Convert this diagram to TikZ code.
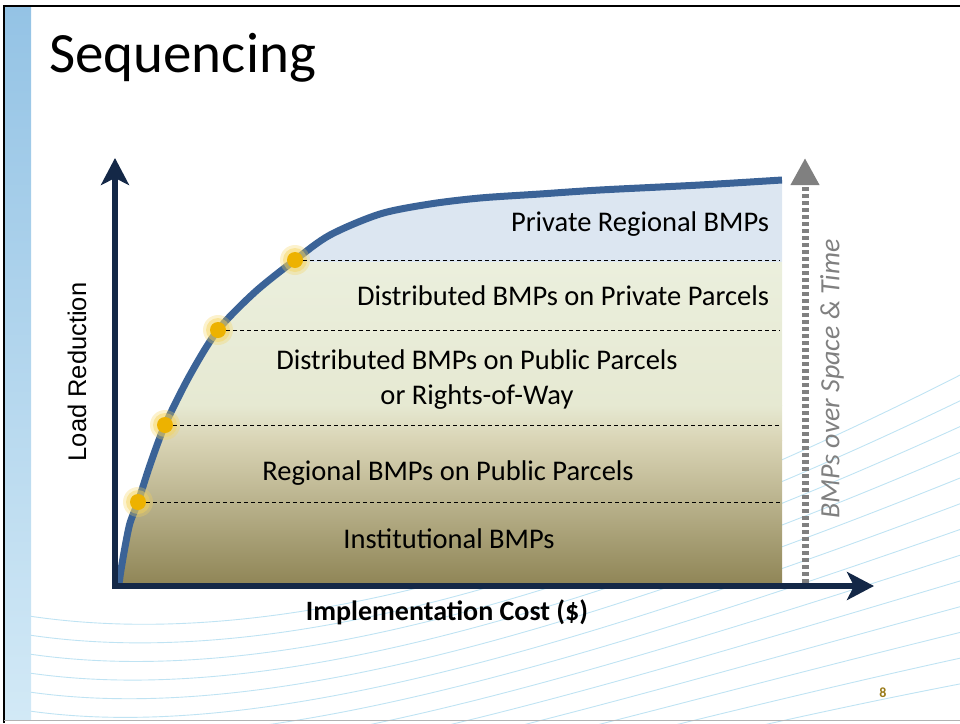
\documentclass[tikz,border=0pt]{standalone}
\usepackage{fontspec}
\setmainfont{Carlito}
\newfontfamily\arialf{Liberation Sans}
\usetikzlibrary{arrows.meta}
\definecolor{navy}{HTML}{142847}
\definecolor{curveblue}{HTML}{3B6397}
\definecolor{bandblue}{HTML}{DCE6F1}
\definecolor{bandgreenA}{HTML}{EBEFDD}
\definecolor{bandgreenB}{HTML}{E6E9D2}
\definecolor{tanA}{HTML}{D9D4B5}
\definecolor{tanB}{HTML}{8F8556}
\definecolor{dotcore}{HTML}{EDB200}
\definecolor{dotglow}{HTML}{F6D35A}
\definecolor{arrowgray}{HTML}{808080}
\definecolor{wavec}{HTML}{BFE3F3}
\definecolor{stripeA}{HTML}{94C3E5}
\definecolor{stripeB}{HTML}{D2E9F6}
\definecolor{pagenum}{HTML}{9A7B1A}
\tikzset{
  bandtext/.style={font=\fontsize{28.5}{35}\selectfont, text=black, inner sep=0pt},
  axislabel/.style={font=\fontsize{28}{30}\selectfont\bfseries, text=black, inner sep=0pt},
  axisline/.style={draw=navy, line width=5.5pt, -{Stealth[length=27pt,width=28pt,inset=7pt]}},
  sepline/.style={draw=black, line width=0.9pt, dash pattern=on 4pt off 3pt},
  dotnode/.style={circle, fill=dotcore, minimum size=16pt, inner sep=0pt},
  wave/.style={draw=wavec, line width=0.9pt},
}
\begin{document}
\begin{tikzpicture}[x=1pt,y=-1pt]
\useasboundingbox (0,0) rectangle (960,723);
\clip (0,0) rectangle (960,723);
% background waves
\foreach \i in {0,...,12} {
  \draw[wave] (5,{612+19*\i}) .. controls (220,{652+19*\i}) and (520,{600+14*\i}) .. (970,{370+26*\i});
}
% left stripe
\shade[top color=stripeA, bottom color=stripeB] (5,6) rectangle (31,720);
% frame
\draw[black, line width=2.5pt] (4,723) -- (4,6) -- (960,6);
\draw[gray!60, line width=1.5pt] (4,720.5) -- (960,720.5);
% title
\node[anchor=base west, inner sep=0pt, font=\fontsize{57}{60}\selectfont] (title) at (49,72) {Sequencing};
% chart fill
\begin{scope}
\clip plot[smooth, tension=0.5] coordinates {(119,584) (121,570) (125,547) (130,523) (138,502) (150,465) (165,425) (190,375) (218,330) (255,292) (295,260) (330,235) (380,214) (430,204) (480,198) (540,194) (600,190) (700,185) (782,180)} -- (782,584) -- cycle;
\fill[bandblue] (110,150) rectangle (785,262);
\shade[top color=bandgreenA, bottom color=bandgreenB] (110,262) rectangle (785,405);
\shade[top color=bandgreenB, bottom color=tanA] (110,405) rectangle (785,440);
\shade[top color=tanA, bottom color=tanB] (110,440) rectangle (785,585);
\end{scope}
% curve
\draw[curveblue, line width=7pt] plot[smooth, tension=0.5] coordinates {(119,584) (121,570) (125,547) (130,523) (138,502) (150,465) (165,425) (190,375) (218,330) (255,292) (295,260) (330,235) (380,214) (430,204) (480,198) (540,194) (600,190) (700,185) (782,180)};
% separator ends
\coordinate (e1) at (780,502);
\coordinate (e2) at (780,425);
\coordinate (e3) at (780,330);
\coordinate (e4) at (780,260);
\coordinate (c1) at (138,502);
\coordinate (c2) at (165,425);
\coordinate (c3) at (218,330);
\coordinate (c4) at (295,260);
\foreach \k in {1,...,4} {
  \fill[dotglow, opacity=0.3] (c\k) circle (15);
  \fill[dotglow, opacity=0.45] (c\k) circle (12);
}
\node[dotnode] (d1) at (c1) {};
\node[dotnode] (d2) at (c2) {};
\node[dotnode] (d3) at (c3) {};
\node[dotnode] (d4) at (c4) {};
\draw[sepline] (d1.east) -- (e1);
\draw[sepline] (d2.east) -- (e2);
\draw[sepline] (d3.east) -- (e3);
\draw[sepline] (d4.east) -- (e4);
% band labels
\node[bandtext, anchor=base] (t5) at (640,231) {Private Regional BMPs};
\node[bandtext, anchor=base] (t4) at (563,305) {Distributed BMPs on Private Parcels};
\node[bandtext, anchor=base, align=center] (t3) at (477,404) {Distributed BMPs on Public Parcels\\or Rights-of-Way};
\node[bandtext, anchor=base] (t2) at (448,480) {Regional BMPs on Public Parcels};
\node[bandtext, anchor=base] (t1) at (449,548) {Institutional BMPs};
% axes
\coordinate (O) at (112,586);
\coordinate (ytip) at (115,158);
\coordinate (ybot) at (115,589);
\coordinate (xtip) at (874,586);
\draw[axisline] (ybot) -- (ytip);
\draw[axisline] (O) -- (xtip);
% gray dashed arrow
\coordinate (gbot) at (805,583);
\coordinate (gtop) at (805,158);
\draw[arrowgray, line width=7pt, dash pattern=on 4pt off 3pt, -{Triangle[length=27pt,width=27pt]}] (gbot) -- (gtop);
\node[rotate=90, inner sep=0pt, text=arrowgray, font=\fontsize{27.9}{30}\selectfont\itshape] (bmps) at (832,379) {BMPs over Space \& Time};
% axis labels
\node[axislabel, anchor=base] (xlab) at (447,620) {Implementation Cost (\$)};
\node[rotate=90, inner sep=0pt, font=\fontsize{25.5}{28}\selectfont\arialf] (ylab) at (77,372) {Load Reduction};
% page number
\node[inner sep=0pt, text=pagenum, font=\fontsize{14}{16}\selectfont\bfseries] (pn) at (883,693) {8};
\end{tikzpicture}
\end{document}
